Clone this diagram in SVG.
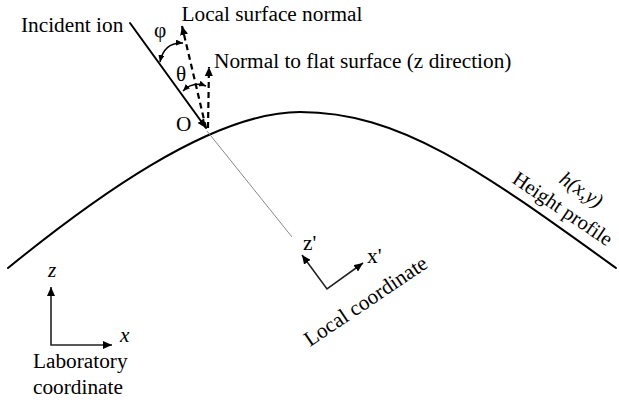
<svg xmlns="http://www.w3.org/2000/svg" width="619" height="403" viewBox="0 0 619 403" font-family="'Liberation Serif', 'Times New Roman', serif" font-size="21.3">
<style>
.it{font-style:italic}
.ln{fill:none;stroke:#000;stroke-width:2;stroke-linecap:round}
.dash{fill:none;stroke:#000;stroke-width:2.2;stroke-dasharray:6 4}
.ax{fill:none;stroke:#222;stroke-width:1.6}
.arc{fill:none;stroke:#000;stroke-width:1.5}
</style>
<defs>
<marker id="ah" markerUnits="userSpaceOnUse" markerWidth="10" markerHeight="8" refX="9" refY="4" orient="auto-start-reverse">
<path d="M0,0 L9,4 L0,8 Z" fill="#000"/>
</marker>
<marker id="as" markerUnits="userSpaceOnUse" markerWidth="8" markerHeight="6" refX="7" refY="3" orient="auto-start-reverse">
<path d="M0,0 L7,3 L0,6 Z" fill="#000"/>
</marker>
</defs>
<g id="surface">
<path class="ln" d="M8,268 C88,203 210,112 300,112 C400,112 480,170 616,268"/>
<text font-size="20.5" transform="translate(511,182) rotate(34)">Height profile</text>
<text class="it" font-size="20.5" transform="translate(558,182) rotate(34)">h(x,y)</text>
</g>
<g id="connectors">
<line x1="207" y1="131" x2="292" y2="237" stroke="#888" stroke-width="1"/>
<line class="ln" x1="130" y1="23" x2="206" y2="128" marker-end="url(#ah)"/>
<line class="dash" x1="206" y1="128" x2="182" y2="26" marker-end="url(#ah)"/>
<line class="dash" x1="208" y1="128" x2="209" y2="67" marker-end="url(#ah)"/>
<path class="arc" d="M160,62 Q164,42 183,43" marker-start="url(#as)" marker-end="url(#as)"/>
<path class="arc" d="M183,91 Q193,81 206,86" marker-start="url(#as)" marker-end="url(#as)"/>
</g>
<g id="incident">
<text x="21" y="32">Incident ion</text>
<text x="154" y="37">φ</text>
<text x="176" y="81">θ</text>
<text x="176" y="131">O</text>
</g>
<g id="normals">
<text x="181.5" y="21">Local surface normal</text>
<text x="214" y="68">Normal to flat surface (z direction)</text>
</g>
<g id="local-coordinate">
<polyline class="ax" points="302,255 327,289 363,263" marker-start="url(#ah)" marker-end="url(#ah)"/>
<text x="303" y="250">z'</text>
<text x="367" y="263">x'</text>
<text transform="translate(310,347) rotate(-34)">Local coordinate</text>
</g>
<g id="lab-coordinate">
<polyline class="ax" points="51,287 51,345 112,345" marker-start="url(#ah)" marker-end="url(#ah)"/>
<text class="it" x="48" y="277">z</text>
<text class="it" x="120" y="342">x</text>
<text x="33" y="368">Laboratory</text>
<text x="33" y="394">coordinate</text>
</g>
</svg>
